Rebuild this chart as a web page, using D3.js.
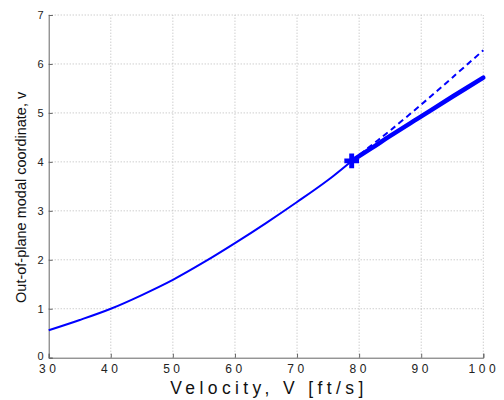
<!DOCTYPE html>
<html><head><meta charset="utf-8">
<script src="https://cdn.jsdelivr.net/npm/d3@7"></script>
<style>body{margin:0;background:#fff}svg{display:block}</style>
</head><body>
<script>
const mainX = [30, 35, 40, 45, 50, 55, 60, 65, 70, 75, 78.8];
const mainY = [0.56, 0.77, 1.0, 1.28, 1.59, 1.95, 2.34, 2.75, 3.18, 3.63, 4.02];
const dashX = [78.8, 82, 85, 90, 95, 100];
const dashY = [4.02, 4.34, 4.64, 5.17, 5.72, 6.28];
const thickX = [78.8, 82, 85, 90, 95, 100];
const thickY = [4.02, 4.28, 4.53, 4.93, 5.33, 5.72];
const markerPt = [78.8, 4.02];
const xTicks = [30, 40, 50, 60, 70, 80, 90, 100];
const yTicks = [0, 1, 2, 3, 4, 5, 6, 7];

const W = 504, H = 400;
const m = {l: 48.7, r: 504 - 483.3, t: 15, b: 400 - 357.7};
const svg = d3.select("body").append("svg").attr("width", W).attr("height", H);
const x = d3.scaleLinear().domain([30, 100]).range([m.l, W - m.r]);
const y = d3.scaleLinear().domain([0, 7]).range([H - m.b, m.t]);

// grid
const g = svg.append("g");
g.selectAll("line.vx").data(xTicks.slice(1)).join("line")
  .attr("x1", d => x(d)).attr("x2", d => x(d)).attr("y1", y(0)).attr("y2", y(7))
  .attr("stroke", "#b8b8b8").attr("stroke-width", 1).attr("stroke-dasharray", "1,2");
g.selectAll("line.hy").data(yTicks.slice(1)).join("line")
  .attr("y1", d => y(d)).attr("y2", d => y(d)).attr("x1", x(30)).attr("x2", x(100))
  .attr("stroke", "#b8b8b8").attr("stroke-width", 1).attr("stroke-dasharray", "1,2");

// axes
const xAxis = d3.axisBottom(x).tickValues(xTicks).tickFormat(d3.format("d")).tickSize(-4).tickPadding(7);
const yAxis = d3.axisLeft(y).tickValues(yTicks).tickFormat(d3.format("d")).tickSize(-4).tickPadding(5);
const gx = svg.append("g").attr("transform", `translate(0,${y(0)})`).call(xAxis);
const gy = svg.append("g").attr("transform", `translate(${x(30)},0)`).call(yAxis);
[gx, gy].forEach(a => {
  a.select(".domain").attr("stroke", "#666").attr("stroke-width", 1);
  a.selectAll(".tick line").attr("stroke", "#666");
  a.selectAll("text").attr("fill", "#222").style("font-family", "Liberation Sans, Arial, sans-serif").style("font-size", "12px");
});
gx.selectAll("text").style("letter-spacing", "3.5px");
gy.selectAll("text").style("font-size", "11px");
gy.selectAll(".tick").filter(d => d === 0).select("text").attr("dy", "0.2em");

const lineGen = d3.line().curve(d3.curveCatmullRom);
const pts = (xs, ys) => xs.map((v, i) => [x(v), y(ys[i])]);

svg.append("path").attr("d", lineGen(pts(dashX, dashY)))
  .attr("fill", "none").attr("stroke", "#0000ff").attr("stroke-width", 2).attr("stroke-dasharray", "6,4");
svg.append("path").attr("d", lineGen(pts(thickX, thickY)))
  .attr("fill", "none").attr("stroke", "#0000ff").attr("stroke-width", 4.5).attr("stroke-linecap", "round");
svg.append("path").attr("d", lineGen(pts(mainX, mainY)))
  .attr("fill", "none").attr("stroke", "#0000ff").attr("stroke-width", 2);
svg.append("path").attr("d", d3.symbol(d3.symbolCross, 120)())
  .attr("transform", `translate(${x(markerPt[0])},${y(markerPt[1])})`).attr("fill", "#0000ff");

// labels
svg.append("text").attr("x", (x(30) + x(100)) / 2 + 3).attr("y", 394).attr("text-anchor", "middle")
  .style("font-family", "Liberation Sans, Arial, sans-serif").style("font-size", "17.5px").style("letter-spacing", "4.4px")
  .attr("fill", "#111").text("Velocity, V [ft/s]");
svg.append("text").attr("transform", `translate(26,${(y(0) + y(7)) / 2 + 11}) rotate(-90)`).attr("text-anchor", "middle")
  .style("font-family", "Liberation Sans, Arial, sans-serif").style("font-size", "14.5px")
  .attr("fill", "#111").text("Out-of-plane modal coordinate, v");
</script>
</body></html>
